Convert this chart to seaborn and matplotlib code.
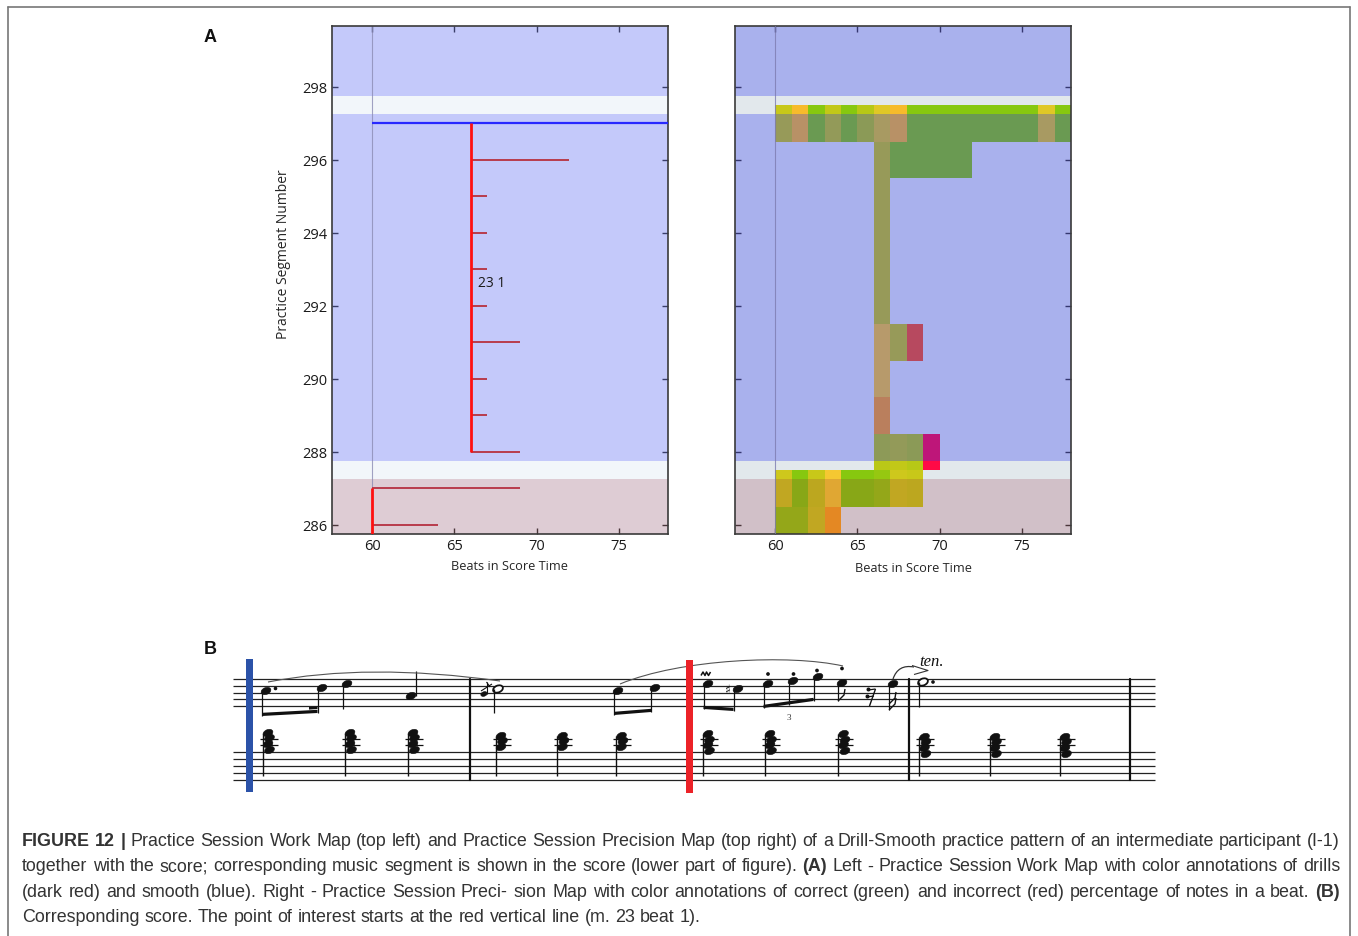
import numpy as np
import matplotlib
matplotlib.use("Agg")
import matplotlib.pyplot as plt
import seaborn as sns
from matplotlib.colors import LinearSegmentedColormap
from matplotlib.patches import Ellipse, Rectangle, PathPatch, Polygon
from matplotlib.path import Path

# ---------------- data ----------------
# Practice Session Work Map (left)
smooth_segment = 297
smooth_start, smooth_end = 60, 78
drill_anchor = 66
drill_segments = [296, 295, 294, 293, 292, 291, 290, 289, 288]
drill_ends = [72, 67, 67, 67, 67, 69, 67, 67, 69]
early_anchor = 60
early_segments = [287, 286]
early_ends = [69, 64]
work_note = "23 1"

# session layout: smooth (blue) sessions, drill (red) session, gaps between them
smooth_bands = [(287.75, 297.25), (297.75, 300.5)]
drill_bands = [(285.0, 287.25)]

# Practice Session Precision Map (right): share of correct notes per beat
precision_segments = [297, 296, 295, 294, 293, 292, 291, 290, 289, 288, 287, 286]
precision_starts = [60, 66, 66, 66, 66, 66, 66, 66, 66, 66, 60, 60]
precision_values = [
    [0.80, 0.60, 1.00, 0.82, 1.00, 0.85, 0.72, 0.60, 1.00, 1.00, 1.00, 1.00,
     1.00, 1.00, 1.00, 1.00, 0.72, 1.00],
    [0.80, 1.00, 1.00, 1.00, 1.00, 1.00],
    [0.80],
    [0.80],
    [0.80],
    [0.80],
    [0.65, 0.80, 0.28],
    [0.65],
    [0.50],
    [0.84, 0.82, 0.85, 0.00],
    [0.78, 1.00, 0.80, 0.65, 1.00, 1.00, 0.95, 0.78, 0.80],
    [0.95, 0.95, 0.78, 0.50],
]
beat_ticks = [60, 65, 70, 75]
segment_ticks = [286, 288, 290, 292, 294, 296, 298]

caption_lines = [
    [("FIGURE 12 |", True),
     ("Practice Session Work Map (top left) and Practice Session Precision Map (top right) "
      "of a Drill-Smooth practice pattern of an intermediate participant (I-1)", False)],
    [("together with the score; corresponding music segment is shown in the score "
      "(lower part of figure).", False), ("(A)", True),
     ("Left - Practice Session Work Map with color annotations of drills", False)],
    [("(dark red) and smooth (blue). Right - Practice Session Preci- sion Map with color "
      "annotations of correct (green) and incorrect (red) percentage of notes in a beat.", False),
     ("(B)", True)],
    [("Corresponding score. The point of interest starts at the red vertical line (m. 23 beat 1).", False)],
]

# ---------------- style ----------------
sns.set_theme(style="ticks")
plt.rcParams["font.family"] = ["Open Sans", "DejaVu Sans"]
plt.rcParams["axes.linewidth"] = 1.2
plt.rcParams["axes.edgecolor"] = "#3a3a3a"

W, H = 1358, 937
fig = plt.figure(figsize=(W / 100, H / 100), dpi=100)
fig.patch.set_facecolor("white")

# full-figure canvas in pixel units for frame, score and caption
cv = fig.add_axes([0, 0, 1, 1])
cv.set_xlim(0, W)
cv.set_ylim(H, 0)
cv.axis("off")

XLIM = (57.55, 78.0)
YLIM = (285.75, 299.67)


def panel(rect_px):
    x0, y0, x1, y1 = rect_px
    ax = fig.add_axes([x0 / W, 1 - y1 / H, (x1 - x0) / W, (y1 - y0) / H])
    ax.set_xlim(*XLIM)
    ax.set_ylim(*YLIM)
    ax.set_xticks(beat_ticks)
    ax.set_yticks(segment_ticks)
    ax.tick_params(direction="in", length=4, width=1, top=True, right=True,
                   color="#3a3a3a", labelcolor="#1a1a1a", labelsize=10.5, pad=3)
    for s in ax.spines.values():
        s.set_linewidth(1.2)
        s.set_color("#3a3a3a")
    ax.grid(False)
    return ax


# ---------------- left: work map ----------------
axl = panel((332, 27, 668, 535))
axl.set_facecolor("#f2f6fa")
for lo, hi in smooth_bands:
    axl.axhspan(lo, hi, color="#3c46fa", alpha=0.25, lw=0, zorder=1)
for lo, hi in drill_bands:
    axl.axhspan(lo, hi, color="#8e243c", alpha=0.2, lw=0, zorder=1)
axl.axvline(60, color="#8c8cb4", lw=0.8, alpha=0.8, zorder=2)

axl.hlines(smooth_segment, smooth_start, smooth_end, color="#2828ff", lw=1.6, zorder=4)
axl.vlines(drill_anchor, drill_segments[-1], smooth_segment, color="#ff1010", lw=2.0, zorder=5)
axl.hlines(drill_segments, drill_anchor, drill_ends, color="#b83c4c", lw=1.4, zorder=4)
axl.vlines(early_anchor, 285.0, early_segments[0], color="#ff1010", lw=2.0, zorder=5)
axl.hlines(early_segments, early_anchor, early_ends, color="#b83c4c", lw=1.4, zorder=4)
axl.text(drill_anchor + 0.45, 292.63, work_note, fontsize=10, color="#1a1a1a",
         ha="left", va="center", zorder=6)

axl.set_xlabel("Beats in Score Time", fontsize=9.2)
axl.xaxis.set_label_coords(0.527, -0.050)
axl.set_ylabel("Practice Segment Number", fontsize=10)
axl.yaxis.set_label_coords(-0.122, 0.553)

# ---------------- right: precision map ----------------
axr = panel((735, 27, 1071, 535))
axr.set_facecolor("#e2e8ec")
axr.set_yticklabels([])

beats = np.arange(60, 78)
rows = np.arange(286, 298)
grid = np.full((rows.size, beats.size), np.nan)
for seg, start, vals in zip(precision_segments, precision_starts, precision_values):
    r = seg - rows[0]
    c = start - beats[0]
    grid[r, c:c + len(vals)] = vals

prec_cmap = LinearSegmentedColormap.from_list(
    "precision",
    [(0.0, "#ff0a46"), (0.3, "#f55a1e"), (0.5, "#faa01e"), (0.65, "#f5c832"),
     (0.8, "#c8c819"), (1.0, "#87c80f")])
xe = np.arange(60, 79)
ye = np.arange(285.5, 298.5)
axr.pcolormesh(xe, ye, np.ma.masked_invalid(grid), cmap=prec_cmap, vmin=0, vmax=1,
               shading="flat", zorder=1)
for lo, hi in smooth_bands:
    axr.axhspan(lo, hi, color="#2832f0", alpha=0.3, lw=0, zorder=2)
for lo, hi in drill_bands:
    axr.axhspan(lo, hi, color="#8e243c", alpha=0.2, lw=0, zorder=2)
axr.axvline(60, color="#7c7cb0", lw=0.8, alpha=0.8, zorder=3)
axr.set_xlabel("Beats in Score Time", fontsize=9.2)
axr.xaxis.set_label_coords(0.530, -0.054)

# ---------------- frame and panel letters ----------------
frame_c = "#777777"
cv.plot([8, 8], [8, H + 5], color=frame_c, lw=1.2)
cv.plot([8, 1350], [8, 8], color=frame_c, lw=1.2)
cv.plot([1350, 1350], [8, H + 5], color=frame_c, lw=1.2)
cv.text(204, 42, "A", fontsize=13, fontweight="bold", family=["Liberation Sans", "DejaVu Sans"],
        ha="left", va="baseline", color="#111111")
cv.text(204, 654, "B", fontsize=13, fontweight="bold", family=["Liberation Sans", "DejaVu Sans"],
        ha="left", va="baseline", color="#111111")

# ---------------- score excerpt ----------------
ink = "#111111"
upper_staff = [680.0, 686.8, 693.5, 700.2, 707.0]
lower_staff = [753.0, 760.0, 767.0, 774.0, 781.0]
for y in upper_staff + lower_staff:
    cv.plot([233, 1155], [y, y], color="#222222", lw=0.9, solid_capstyle="butt")
for bx in [469.5, 909.0, 1130.0]:
    cv.plot([bx, bx], [680, 781], color=ink, lw=1.6)

cv.add_patch(Rectangle((246, 660), 7, 133, color="#2b52a8", lw=0, zorder=5))
cv.add_patch(Rectangle((686, 661), 6.5, 133, color="#ec2228", lw=0, zorder=5))


def head(x, y, hollow=False, s=1.0):
    cv.add_patch(Ellipse((x, y), 10.2 * s, 6.8 * s, angle=-22,
                         facecolor="white" if hollow else ink, edgecolor=ink,
                         lw=1.3 if hollow else 0.4, zorder=4))


def line(xs, ys, lw=0.9, c=ink, z=4):
    cv.plot(xs, ys, color=c, lw=lw, zorder=z, solid_capstyle="butt")


def beam(x0, y0, x1, y1, t=3.2):
    cv.add_patch(Polygon([(x0, y0), (x1, y1), (x1, y1 - t), (x0, y0 - t)],
                         closed=True, color=ink, lw=0, zorder=4))


def curve(pts, codes_kind, lw=0.8, c="#555555"):
    codes = [Path.MOVETO] + [codes_kind] * (len(pts) - 1)
    cv.add_patch(PathPatch(Path(pts, codes), facecolor="none", edgecolor=c, lw=lw, zorder=4))


# upper staff note heads (x, y, hollow)
melody = [(266, 692, False), (322, 689, False), (347, 685, False), (411, 697, False),
          (498, 690, True), (618, 692, False), (655, 689, False),
          (708, 685, False), (738, 690, False), (768, 685, False), (793, 682, False),
          (818, 678, False), (842, 684, False), (893, 685, False), (923, 683, True)]
for x, y, hol in melody:
    head(x, y, hol)
stems = [(262, 692, 717), (317.5, 689, 714), (343, 685, 710), (415.5, 697, 672),
         (494, 690, 714), (614, 692, 716), (651, 689, 713), (703.5, 685, 710),
         (733.5, 690, 712), (763.5, 685, 709), (788.5, 682, 705.5), (813.5, 678, 702),
         (838, 684, 702), (889, 685, 711), (918.5, 683, 708)]
for x, y0, y1 in stems:
    line([x, x], [y0, y1], lw=0.9)
for b in [(262, 717, 317.5, 714), (614, 716, 651, 713), (703.5, 710, 733.5, 712),
          (763.5, 709, 813.5, 702)]:
    beam(*b)
beam(309, 710.6, 317.5, 710.0, t=2.6)
# flags
line([838, 844, 845], [702, 696, 690], lw=1.0)
line([889, 895, 896], [711, 705, 699], lw=1.0)
line([889, 895, 896], [705, 699, 693], lw=1.0)
# dots, staccato
for x, y in [(275.5, 689.5), (933, 683)]:
    cv.add_patch(Ellipse((x, y), 2.2, 2.2, color=ink, zorder=4))
for x, y in [(768, 675), (793.5, 675), (817, 671.5), (842, 669.5)]:
    cv.add_patch(Ellipse((x, y), 2.3, 2.3, color=ink, zorder=4))
# grace note
head(484, 695, s=0.65)
line([486.5, 486.5], [695, 683], lw=0.8)
line([486.5, 490], [683, 688], lw=0.8)
line([481, 492], [692, 685], lw=0.8)
# mordent
line([701, 703, 705, 706.5, 708.5, 710.5], [676.5, 673, 676.5, 673, 676.5, 673], lw=1.1)
cv.text(728, 690.5, "\u266F", fontsize=9, ha="center", va="center", color=ink,
        family=["DejaVu Sans"], zorder=4)
cv.text(788.5, 718, "3", fontsize=6.5, ha="center", va="center", color="#333333",
        family=["Liberation Serif", "DejaVu Serif"])
# sixteenth rest
line([875.5, 869.5], [690, 707], lw=1.0)
line([868, 875.5], [691, 690], lw=0.9)
line([866.5, 874], [698, 697], lw=0.9)
cv.add_patch(Ellipse((868.5, 690.5), 2.6, 2.6, color=ink, zorder=4))
cv.add_patch(Ellipse((867.5, 697.5), 2.6, 2.6, color=ink, zorder=4))
# slurs, tenuto marking
curve([(268, 683), (368, 663.5), (500, 682)], Path.CURVE3)
curve([(620, 685), (680, 660), (790, 655), (843, 667)], Path.CURVE4)
curve([(893, 680), (898, 665), (914, 668)], Path.CURVE3, lw=0.9, c="#333333")
line([912, 928, 914], [666.5, 671.5, 675.5], lw=0.8, c="#333333")
cv.text(919, 666, "ten.", fontsize=12, style="italic", ha="left", va="baseline", color=ink,
        family=["Liberation Serif", "DejaVu Serif"])

# lower staff chords: stem x and note-head heights
chord_x = [262.5, 344.5, 407.5, 495.5, 557.0, 616.0, 702.5, 764.5, 838.0, 919.0, 989.5, 1059.5]
chord_heads = ([[734, 739, 745, 751]] * 3 + [[737, 742, 748]] * 3 +
               [[735, 741, 746, 752]] * 3 + [[738, 743, 749, 755]] * 3)
for cx, hs in zip(chord_x, chord_heads):
    for y in [739.5, 746.0]:
        line([cx - 3, cx + 15], [y, y], lw=0.9)
    for i, y in enumerate(hs):
        head(cx + 5.5 + (1.5 if i % 2 else 0), y)
    line([cx, cx], [min(hs), 777], lw=1.0)

# ---------------- caption (justified) ----------------
renderer = fig.canvas.get_renderer()
cap_family = ["Liberation Sans", "DejaVu Sans"]
cap_color = "#333333"
cap_left, cap_right = 22, 1340
last_line_right = 704
baselines = [846, 871.5, 897, 922.5]

cap_words = []
for segs in caption_lines:
    words = []
    for txt, bold in segs:
        for w in txt.split():
            words.append((w, bold))
    cap_words.append(words)

# size the caption font so the closing (unjustified) line reaches its right end
probe_fs = 12.0
probe = [cv.text(0, -50, w, fontsize=probe_fs, fontweight="bold" if b else "normal",
                 family=cap_family) for w, b in cap_words[-1]]
probe_w = sum(p.get_window_extent(renderer).width for p in probe)
probe_w += (len(probe) - 1) * 0.278 * probe_fs * 100 / 72
for p in probe:
    p.remove()
cap_fs = probe_fs * (last_line_right - cap_left) / probe_w
space_px = 0.278 * cap_fs * 100 / 72

for li, (words, yb) in enumerate(zip(cap_words, baselines)):
    arts = [cv.text(0, yb, w, fontsize=cap_fs, fontweight="bold" if b else "normal",
                    family=cap_family, color=cap_color, ha="left", va="baseline")
            for w, b in words]
    widths = [a.get_window_extent(renderer).width for a in arts]
    last = li == len(cap_words) - 1
    gap = space_px if last else (cap_right - cap_left - sum(widths)) / (len(arts) - 1)
    x = cap_left
    for a, w in zip(arts, widths):
        a.set_x(x)
        x += w + gap

fig.savefig("out.png", dpi=100, facecolor="white")
